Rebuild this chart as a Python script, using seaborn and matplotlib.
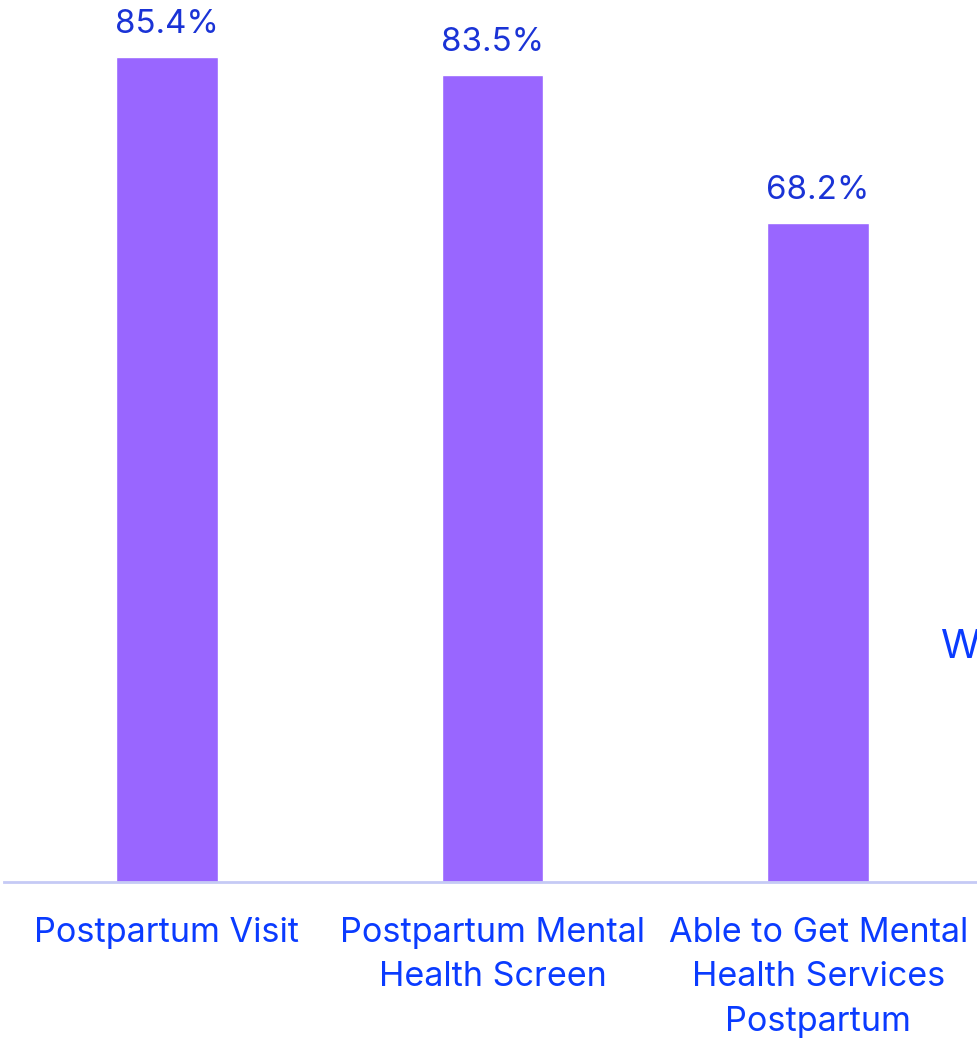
import matplotlib
matplotlib.use("Agg")
import matplotlib.pyplot as plt
import seaborn as sns
import pandas as pd

# Datos
categorias = [
    "Postpartum Visit",
    "Postpartum Mental\nHealth Screen",
    "Able to Get Mental\nHealth Services\nPostpartum",
]
valores = [85.4, 83.5, 68.2]
etiquetas = ["85.4%", "83.5%", "68.2%"]

df = pd.DataFrame({"categoria": categorias, "valor": valores})

sns.set_style("white")
plt.rcParams["font.family"] = ["Inter", "DejaVu Sans"]

fig = plt.figure(figsize=(9.78, 10.38), dpi=100)
ax = fig.add_axes([4 / 978, 156 / 1038, 977 / 978, 882 / 1038])

sns.barplot(data=df, x="categoria", y="valor", color="#9966FF",
            saturation=1, width=0.313, ax=ax)

ax.set_ylim(0, 91.3)
ax.set_xlim(-0.5, 2.5)

# Etiquetas de valores
for i, (v, t) in enumerate(zip(valores, etiquetas)):
    ax.annotate(t, (i, v), xytext=(0, 17), textcoords="offset pixels",
                ha="center", va="bottom", fontsize=23.8, color="#1A33D6")

# Ejes
for s in ["top", "right", "left"]:
    ax.spines[s].set_visible(False)
ax.spines["bottom"].set_color("#C5CAF5")
ax.spines["bottom"].set_linewidth(2)
ax.set_yticks([])
ax.set_xlabel("")
ax.set_ylabel("")
ax.tick_params(axis="x", length=0, pad=25, labelsize=24.6, labelcolor="#0A3BFF")
for lab in ax.get_xticklabels():
    lab.set_linespacing(1.5)

# Texto recortado en el borde derecho
fig.text(941 / 978, 1 - 648 / 1038, "W", fontsize=29, color="#0A3BFF",
         ha="left", va="center")

fig.savefig("out.png", dpi=100)
